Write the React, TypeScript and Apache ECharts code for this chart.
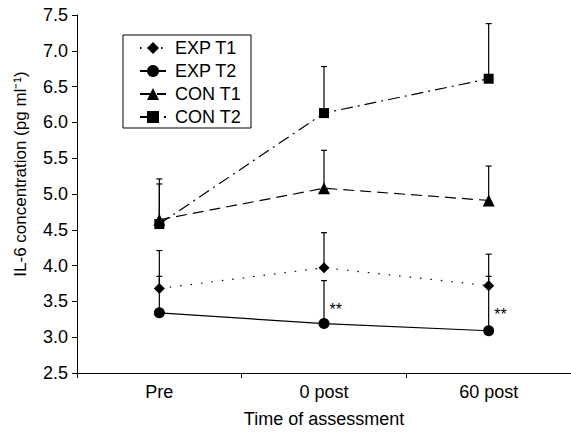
import React, { useEffect, useRef } from "react";
import * as echarts from "echarts";

const categories = ["Pre", "0 post", "60 post"];
const expT1 = [3.68, 3.97, 3.72];
const expT1Upper = [4.21, 4.46, 4.16];
const expT2 = [3.34, 3.19, 3.09];
const expT2Upper = [3.85, 3.79, 3.85];
const conT1 = [4.64, 5.08, 4.91];
const conT1Upper = [5.14, 5.61, 5.39];
const conT2 = [4.58, 6.13, 6.61];
const conT2Upper = [5.21, 6.78, 7.38];
const yTicks = { min: 2.5, max: 7.5, interval: 0.5 };
const sigCategories = ["0 post", "60 post"];
const sigValues = [3.39, 3.32];
const sigTexts = ["**", "**"];

const FONT = "'Liberation Sans', Arial, Helvetica, sans-serif";

function errorSeries(values: number[], upper: number[]) {
  return {
    type: "custom",
    silent: true,
    z: 1,
    renderItem: (params: any, api: any) => {
      const x = api.value(0);
      const p1 = api.coord([x, api.value(1)]);
      const p2 = api.coord([x, api.value(2)]);
      const style = { stroke: "#000", lineWidth: 1.2 };
      return {
        type: "group",
        children: [
          { type: "line", shape: { x1: p1[0], y1: p1[1], x2: p2[0], y2: p2[1] }, style },
          { type: "line", shape: { x1: p2[0] - 3, y1: p2[1], x2: p2[0] + 3, y2: p2[1] }, style },
        ],
      };
    },
    data: values.map((v, i) => [i, v, upper[i]]),
  };
}

function lineSeries(name: string, data: number[], symbol: string, size: number, dash: any) {
  return {
    name,
    type: "line",
    data,
    symbol,
    symbolSize: size,
    z: 3,
    itemStyle: { color: "#000" },
    lineStyle: { color: "#000", width: 1.2, type: dash },
  };
}

export default function App() {
  const ref = useRef<HTMLDivElement>(null);
  useEffect(() => {
    document.body.style.margin = "0";
    const chart = echarts.init(ref.current!, null, { renderer: "svg" });
    chart.setOption({
      animation: false,
      backgroundColor: "#fff",
      color: ["#000"],
      textStyle: { fontFamily: FONT, color: "#000" },
      grid: { left: 77, top: 15, width: 498, height: 358 },
      legend: {
        orient: "vertical",
        left: 123,
        top: 35,
        data: ["EXP T1", "EXP T2", "CON T1", "CON T2"],
        backgroundColor: "#fff",
        borderColor: "#000",
        borderWidth: 1,
        borderRadius: 0,
        padding: [4, 10, 2, 16],
        itemWidth: 26,
        itemHeight: 15,
        itemGap: 5,
        textStyle: { fontSize: 18, color: "#000", fontFamily: FONT, padding: [0, 0, 0, 4] },
      },
      xAxis: {
        type: "category",
        data: categories,
        boundaryGap: true,
        name: "Time of assessment",
        nameLocation: "middle",
        nameGap: 37,
        nameTextStyle: { fontSize: 18, color: "#000", fontFamily: FONT },
        axisLine: { lineStyle: { color: "#000", width: 1 } },
        axisTick: { show: true, length: 5, lineStyle: { color: "#000" } },
        axisLabel: { fontSize: 18, color: "#000", margin: 10, fontFamily: FONT },
        splitLine: { show: false },
      },
      yAxis: {
        type: "value",
        min: yTicks.min,
        max: yTicks.max,
        interval: yTicks.interval,
        name: "IL-6 concentration (pg ml⁻¹)",
        nameLocation: "middle",
        nameGap: 48,
        nameTextStyle: { fontSize: 17, color: "#000", fontFamily: FONT, padding: [0, 0, 0, 40] },
        axisLine: { show: true, lineStyle: { color: "#000", width: 1 } },
        axisTick: { show: true, length: 5, lineStyle: { color: "#000" } },
        axisLabel: { fontSize: 18, color: "#000", margin: 9, fontFamily: FONT, formatter: (v: number) => v.toFixed(1) },
        splitLine: { show: false },
      },
      series: [
        errorSeries(expT1, expT1Upper),
        errorSeries(expT2, expT2Upper),
        errorSeries(conT1, conT1Upper),
        errorSeries(conT2, conT2Upper),
        lineSeries("EXP T1", expT1, "diamond", 11, [1.5, 9]),
        lineSeries("EXP T2", expT2, "circle", 11, "solid"),
        lineSeries("CON T1", conT1, "triangle", 12, [11, 6]),
        lineSeries("CON T2", conT2, "rect", 10, [12, 5, 2, 5]),
        {
          type: "scatter",
          silent: true,
          symbol: "circle",
          symbolSize: 1,
          itemStyle: { color: "#000", opacity: 0 },
          label: {
            show: true,
            position: "right",
            distance: 5,
            color: "#000",
            opacity: 1,
            textBorderWidth: 0,
            fontSize: 16,
            fontFamily: FONT,
            formatter: (p: any) => sigTexts[p.dataIndex],
          },
          data: sigCategories.map((c, i) => [c, sigValues[i]]),
          z: 5,
        },
      ],
    });
    return () => chart.dispose();
  }, []);
  return <div ref={ref} style={{ width: 571, height: 435, position: "absolute", left: 0, top: 0 }} />;
}
